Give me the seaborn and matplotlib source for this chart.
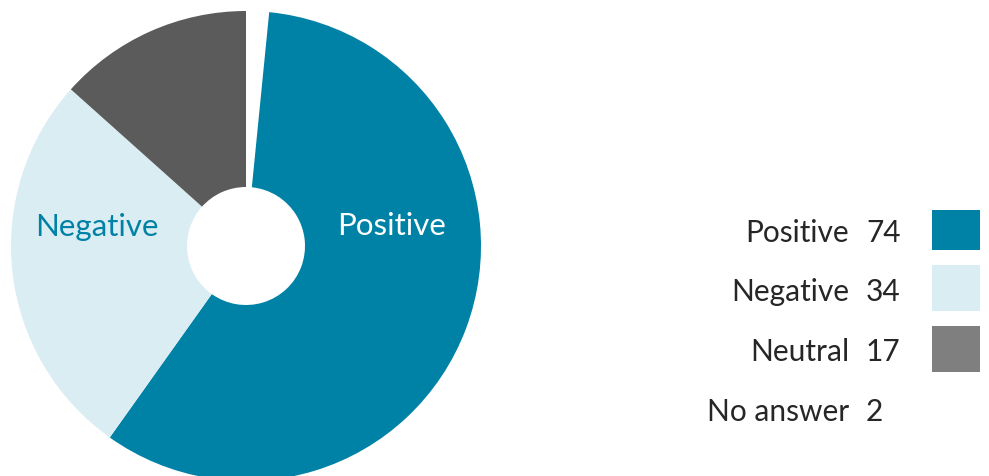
import matplotlib
matplotlib.use('Agg')
import matplotlib.pyplot as plt
from matplotlib.patches import Rectangle
import seaborn as sns

## Data
categories = ['No answer', 'Positive', 'Negative', 'Neutral']
counts = [2, 74, 34, 17]
pie_colors = ['#ffffff', '#0081a6', '#daedf3', '#5b5b5b']
legend_colors = [None, '#0081a6', '#daedf3', '#7f7f7f']
legend_order = ['Positive', 'Negative', 'Neutral', 'No answer']

sns.set_theme(style='white')
plt.rcParams['font.family'] = ['Lato', 'DejaVu Sans']

W, H = 989, 476
fig = plt.figure(figsize=(W / 100, H / 100), dpi=100)
ax = fig.add_axes([0, 0, 1, 1])

# donut, clockwise from 12 o'clock
cx, cy, r = 246, H - 246, 235
ax.pie(counts, colors=pie_colors, startangle=90, counterclock=False,
       center=(cx, cy), radius=r, frame=True,
       wedgeprops=dict(width=r - 59, linewidth=0))

ax.text(392, H - 226, 'Positive', color='white', fontsize=22.5,
        ha='center', va='center')
ax.text(97, H - 227, 'Negative', color='#0081a6', fontsize=22.5,
        ha='center', va='center')

# legend on the right
row_y = [233, 292, 352, 412]
box_top = [210, 265, 326]
box_h = [40, 46, 46]
for i, name in enumerate(legend_order):
    k = categories.index(name)
    y = H - row_y[i]
    ax.text(849, y, name, fontsize=21.5, ha='right', va='center',
            color='#262626')
    ax.text(866, y, str(counts[k]), fontsize=21.5, ha='left', va='center',
            color='#262626')
    if legend_colors[k] is not None:
        ax.add_patch(Rectangle((932, H - box_top[i] - box_h[i]), 48, box_h[i],
                               facecolor=legend_colors[k], linewidth=0))

ax.set_xlim(0, W)
ax.set_ylim(0, H)
ax.axis('off')

plt.savefig('out.png', dpi=100)
